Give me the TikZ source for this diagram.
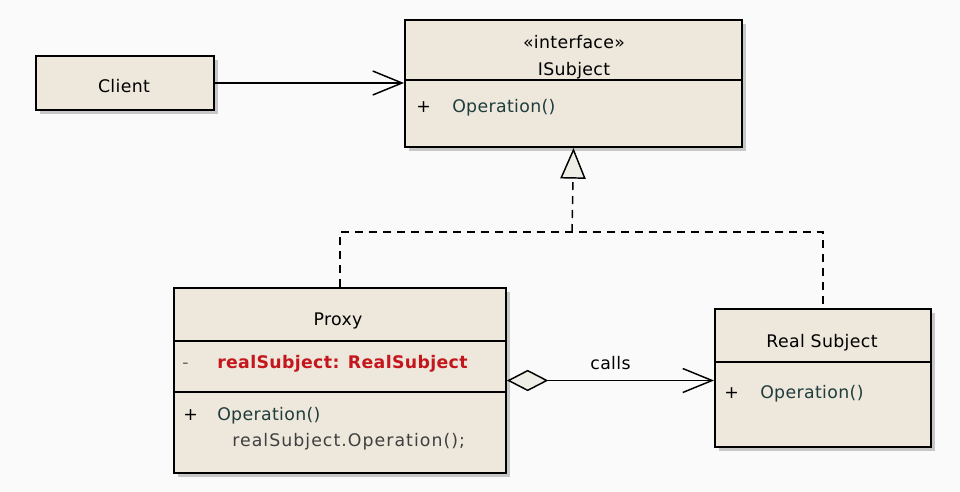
\documentclass[tikz,border=0pt]{standalone}
\usepackage{fontspec}
\newfontfamily\umlfont[LetterSpace=2]{DejaVu Sans}
\newfontfamily\codefont[LetterSpace=6]{DejaVu Sans}
\usetikzlibrary{calc}
\usetikzlibrary{arrows.meta,shadows}
\definecolor{paper}{HTML}{FAFAFA}
\definecolor{beige}{HTML}{EDE7DC}
\definecolor{tipfill}{HTML}{EEEDE6}
\definecolor{opcolor}{HTML}{1F3D3D}
\definecolor{attrcolor}{HTML}{C4161C}
\def\px{0.75pt}

\begin{document}
\begin{tikzpicture}[x=\px, y=-\px,
  umlbox/.style={draw, line width=1.5pt, fill=beige, anchor=north west, inner sep=0pt,
    drop shadow={shadow xshift=3pt, shadow yshift=-3pt, fill=black!22, opacity=1}},
  umltext/.style={font=\umlfont\fontsize{13}{15}\selectfont, inner sep=0pt, anchor=base},
  member/.style={umltext, anchor=base west, text=opcolor},
  divider/.style={line width=1.5pt},
  connector/.style={line width=1.1pt},
  realize/.style={connector, dash pattern=on 6pt off 4.5pt},
  opentip/.style={-{Straight Barb[length=22pt, width=18pt, line width=1.1pt]}}
]
\fill[paper] (0,0) rectangle (960,492);
\useasboundingbox (0,0) rectangle (960,492);

% classes

\node[umlbox, minimum width=178*\px, minimum height=54*\px] (client) at (35,55) {};
\node[umltext] (clientname) at (124,93) {Client};

\node[umlbox, minimum width=337*\px, minimum height=127*\px] (isubject) at (404,19) {};
\node[umltext] (stereotype) at (574,49) {«interface»};
\node[umltext] (isubjectname) at (574,76) {ISubject};
\draw[divider] ($(isubject.north west)+(0,61)$) -- ($(isubject.north east)+(0,61)$);
\node[member, text=black] (isubjectvis) at (416,113) {+};
\node[member] (isubjectop) at (452,113) {Operation()};

\node[umlbox, minimum width=332*\px, minimum height=185*\px] (proxy) at (173,287) {};
\node[umltext] (proxyname) at (338,325) {Proxy};
\draw[divider] ($(proxy.north west)+(0,54)$) -- ($(proxy.north east)+(0,54)$);
\draw[divider] ($(proxy.north west)+(0,105)$) -- ($(proxy.north east)+(0,105)$);
\node[member, text=black!60] (proxyattrvis) at (182,368) {-};
\node[member, text=attrcolor, font=\umlfont\bfseries\fontsize{13}{15}\selectfont] (proxyattr) at (217,368) {realSubject: RealSubject};
\node[member, text=black] (proxyvis) at (183,420) {+};
\node[member] (proxyop) at (217,420) {Operation()};
\node[member, text=black!75, font=\codefont\fontsize{13}{15}\selectfont] (proxybody) at (232,446) {realSubject.Operation();};

\node[umlbox, minimum width=216*\px, minimum height=138*\px] (realsub) at (714,308) {};
\node[umltext] (realsubname) at (822,347) {Real Subject};
\draw[divider] ($(realsub.north west)+(0,54)$) -- ($(realsub.north east)+(0,54)$);
\node[member, text=black] (realsubvis) at (724,398) {+};
\node[member] (realsubop) at (760,398) {Operation()};

% connectors

\draw[connector, opentip] (client.east) -- (client.east -| isubject.west);

\coordinate (fork) at (572,232);
\draw[realize] (proxy.north) |- (fork) -| (realsub.north);
\draw[realize, -{Triangle[length=23pt, width=19pt, fill=tipfill, line width=1.1pt]}] (fork) -- (isubject.south);

\draw[connector, {Diamond[length=31pt, width=16pt, fill=tipfill, line width=1.1pt]}-{Straight Barb[length=22pt, width=18pt, line width=1.1pt]}]
  (proxy.east) -- (proxy.east -| realsub.west) node[umltext, midway, anchor=base, yshift=8pt] (callslabel) {calls};

\end{tikzpicture}
\end{document}
